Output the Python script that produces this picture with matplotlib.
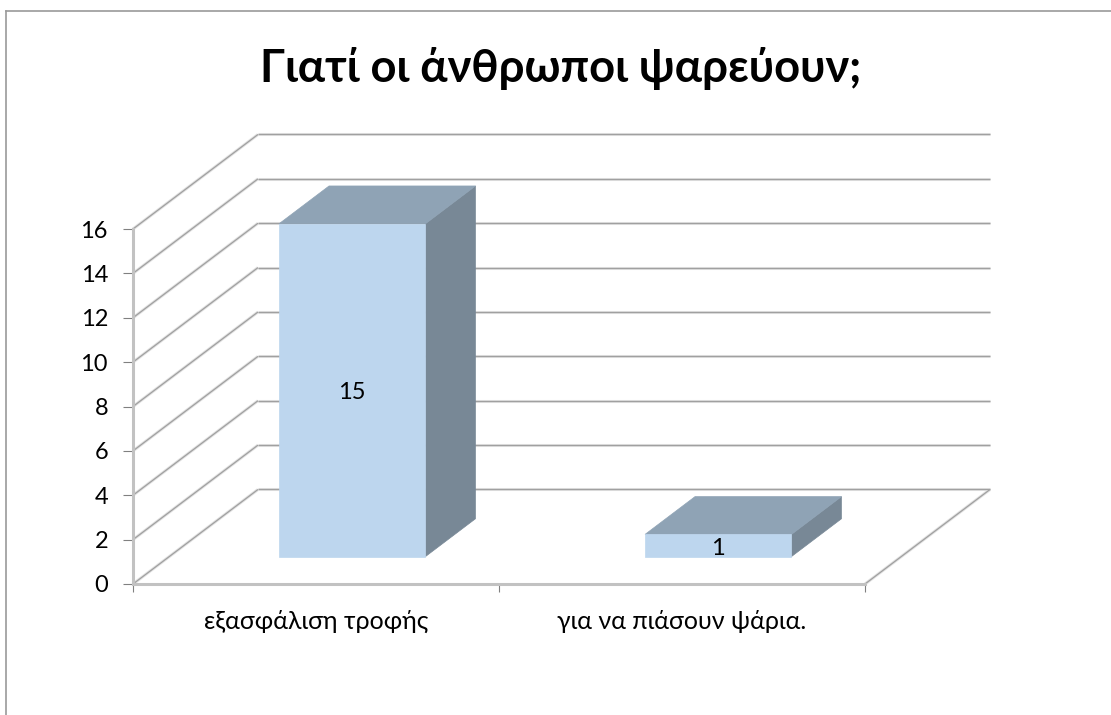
import matplotlib
matplotlib.use("Agg")
import matplotlib.pyplot as plt
from matplotlib.lines import Line2D
from matplotlib.patches import Polygon

plt.rcParams["font.family"] = ["Lato", "Open Sans", "DejaVu Sans"]

TITLE = "Γιατί οι άνθρωποι ψαρεύουν;"
categories = ["εξασφάλιση τροφής", "για να πιάσουν ψάρια."]
values = [15, 1]
y_ticks = [0, 2, 4, 6, 8, 10, 12, 14, 16]

# how far the back wall is shifted from the front plane, in data units
DEPTH_X = 0.3415
DEPTH_Y = 4.26
BAR_WIDTH = 0.40
BAR_D0 = 0.29
BAR_D1 = 0.69

FRONT = "#bdd6ee"
TOP = "#8fa3b5"
SIDE = "#788896"
GRID = "#a0a0a0"
AXIS = "#c2c2c2"


def project(x, y, d):
    # oblique projection: d=0 is the front plane, d=1 the back wall
    return x + d * DEPTH_X, y + d * DEPTH_Y


def draw_grid_line(ax, xs, ys):
    ax.plot(xs, ys, color="#e2e2e2", lw=2.2, clip_on=False, zorder=1, solid_capstyle="butt")
    ax.plot(xs, ys, color=GRID, lw=0.9, clip_on=False, zorder=2, solid_capstyle="butt")


def draw_bar(ax, i, value):
    x0 = i + 0.5 - BAR_WIDTH / 2
    x1 = i + 0.5 + BAR_WIDTH / 2
    pts = lambda corners: [project(*c) for c in corners]

    front = pts([(x0, 0, BAR_D0), (x1, 0, BAR_D0), (x1, value, BAR_D0), (x0, value, BAR_D0)])
    top = pts([(x0, value, BAR_D0), (x1, value, BAR_D0), (x1, value, BAR_D1), (x0, value, BAR_D1)])
    side = pts([(x1, 0, BAR_D0), (x1, 0, BAR_D1), (x1, value, BAR_D1), (x1, value, BAR_D0)])

    ax.add_patch(Polygon(side, fc=SIDE, ec=SIDE, lw=0.5, clip_on=False, zorder=4))
    ax.add_patch(Polygon(top, fc=TOP, ec=TOP, lw=0.5, clip_on=False, zorder=4))
    ax.add_patch(Polygon(front, fc=FRONT, ec=FRONT, lw=0.5, clip_on=False, zorder=5))

    cx, cy = project(i + 0.5, value / 2, BAR_D0)
    ax.annotate(str(value), (cx, cy), xytext=(0, -2), textcoords="offset points",
                ha="center", va="center", fontsize=17, color="black", zorder=6)


def main():
    fig = plt.figure(figsize=(11.11, 7.15), dpi=100)
    ax = fig.add_axes([133 / 1111, 1 - 584 / 715, 732 / 1111, 355 / 715])
    ax.set_xlim(0, len(categories))
    ax.set_ylim(y_ticks[0], y_ticks[-1])
    ax.patch.set_visible(False)

    for tick in y_ticks:
        bx, by = project(0, tick, 1)
        draw_grid_line(ax, [0, bx], [tick, by])
        ex, ey = project(len(categories), tick, 1)
        draw_grid_line(ax, [bx, ex], [by, ey])
    # right edge of the floor
    ex, ey = project(len(categories), 0, 1)
    draw_grid_line(ax, [len(categories), ex], [0, ey])

    for i, value in enumerate(values):
        draw_bar(ax, i, value)

    for name in ["top", "right"]:
        ax.spines[name].set_visible(False)
    for name in ["left", "bottom"]:
        ax.spines[name].set_color(AXIS)
        ax.spines[name].set_linewidth(2.2)
        ax.spines[name].set_zorder(3)

    ax.set_yticks(y_ticks)
    ax.set_xticks(range(len(categories) + 1))
    ax.set_xticklabels([])
    ax.tick_params(axis="y", length=7, width=0.8, color="#808080", labelsize=17, pad=11)
    ax.tick_params(axis="x", length=6, width=0.8, color="#808080")

    for i, name in enumerate(categories):
        ax.annotate(name, (i + 0.5, 0), xytext=(0, -27), xycoords="data", textcoords="offset points",
                    ha="center", va="center", fontsize=18, annotation_clip=False)

    fig.text(561 / 1111, 1 - 69 / 715, TITLE, ha="center", va="center", fontsize=32.7, fontweight="bold")

    # outer chart frame, only top and left are inside the picture
    fig.add_artist(Line2D([6 / 1111, 6 / 1111], [0, 1 - 11 / 715], transform=fig.transFigure, color="#9a9a9a", lw=1.2))
    fig.add_artist(Line2D([6 / 1111, 1], [1 - 11 / 715, 1 - 11 / 715], transform=fig.transFigure, color="#9a9a9a", lw=1.2))

    fig.savefig("out.png", dpi=100)


if __name__ == "__main__":
    main()
